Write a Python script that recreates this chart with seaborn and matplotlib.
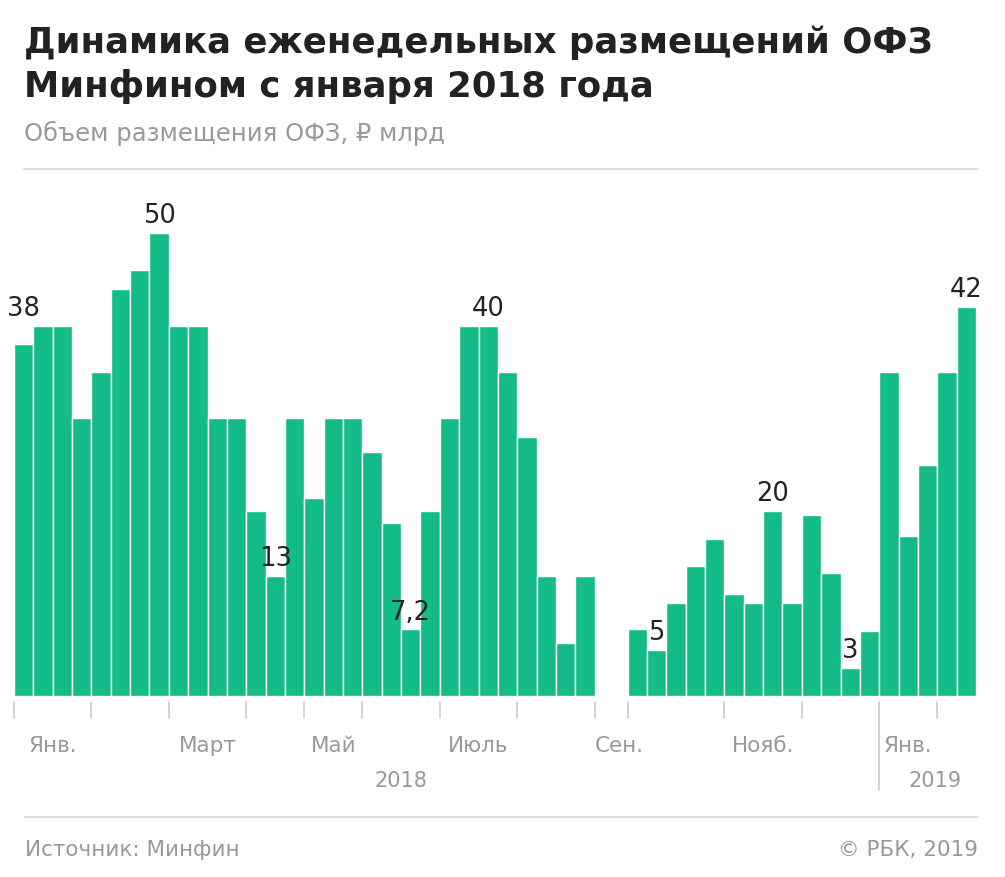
import numpy as np
import pandas as pd
import matplotlib
matplotlib.use("Agg")
import matplotlib.pyplot as plt
import matplotlib.transforms as mtransforms
import seaborn as sns

# weekly OFZ placements, bln rub
vals_2018 = [38, 40, 40, 30, 35, 44, 46, 50, 40, 40, 30, 30, 20, 13, 30,
             21.4, 30, 30, 26.4, 18.7, 7.2, 20, 30, 40, 40, 35, 28, 13, 5.7, 13]
vals_after = [7.2, 5, 10, 14, 17, 11, 10, 20, 10, 19.5, 13.3, 3, 7, 35,
              17.3, 25, 35, 42]

# months and number of weekly bars in each (September has no bars)
month_names = ['Янв.', 'Февр.', 'Март', 'Апр.', 'Май', 'Июнь', 'Июль', 'Авг.',
               'Сен.', 'Окт.', 'Нояб.', 'Дек.', 'Янв.', 'Февр.']
month_weeks = [4, 4, 4, 3, 3, 4, 4, 4, 0, 5, 4, 4, 3, 2]
shown_months = [0, 2, 4, 6, 8, 10, 12]

# labelled bars: (bar index, text)
labels = [(0, '38'), (7, '50'), (13, '13'), (20, '7,2'), (24, '40'),
          (31, '5'), (37, '20'), (41, '3'), (47, '42')]

GREEN = '#13bb87'
GRAY = '#999999'
LINE = '#dddddd'
SEP_GAP = 1.7  # width given to the empty September

sns.set_style('white')
plt.rcParams['font.family'] = ['DejaVu Sans']

W, H = 1005, 877
def fx(px): return px / W
def fy(px): return 1 - px / H

# bar positions
xs = [i + 0.5 for i in range(len(vals_2018))]
xs += [len(vals_2018) + SEP_GAP + j + 0.5 for j in range(len(vals_after))]
df = pd.DataFrame({'x': xs, 'v': vals_2018 + vals_after})

# month boundaries
bounds = [0.0]
for m, n in enumerate(month_weeks):
    w = SEP_GAP if n == 0 else n
    bounds.append(bounds[-1] + w)
x_end = bounds[-1]

fig = plt.figure(figsize=(W / 100, H / 100), dpi=100)
ax = fig.add_axes([fx(14), fy(696), fx(976) - fx(14), (696 - 169) / H])
sns.barplot(data=df, x='x', y='v', native_scale=True, width=1, color=GREEN,
            saturation=1, edgecolor='white', linewidth=1.0, errorbar=None, ax=ax)
unit_px = 9.26
ax.set_xlim(0, x_end)
ax.set_ylim(0, 527 / unit_px)
ax.axis('off')

# value labels
for i, t in labels:
    y = df['v'][i]
    if i == 0:
        y = max(df['v'][0:2])
    ax.annotate(t, (df['x'][i], y), xytext=(0, 7), textcoords='offset points',
                ha='center', va='baseline', fontsize=18.5, color='#222222')

# axis ticks under bars
tr = mtransforms.blended_transform_factory(ax.transData, fig.transFigure)
for k, b in enumerate(bounds[:-1]):
    bottom = 790 if k == 12 else 718
    ax.plot([b, b], [fy(702), fy(bottom)], color='#cccccc', lw=1.2,
            transform=tr, clip_on=False)

for k in shown_months:
    if month_weeks[k] == 0:
        ax.text(bounds[k], fy(752), month_names[k], transform=tr, ha='left',
                va='baseline', fontsize=15.5, color=GRAY)
    else:
        ax.text((bounds[k] + bounds[k + 1]) / 2, fy(752), month_names[k],
                transform=tr, ha='center', va='baseline', fontsize=15.5, color=GRAY)

ax.text(20.0, fy(787), '2018', transform=tr, ha='center', va='baseline',
        fontsize=15, color=GRAY)
ax.text(47.6, fy(787), '2019', transform=tr, ha='center', va='baseline',
        fontsize=15, color=GRAY)

# title block
fig.text(fx(24), fy(53), 'Динамика еженедельных размещений ОФЗ', ha='left',
         va='baseline', fontsize=25.6, fontweight='bold', color='#222222')
fig.text(fx(24), fy(97), 'Минфином с января 2018 года', ha='left',
         va='baseline', fontsize=25.6, fontweight='bold', color='#222222')
fig.text(fx(24), fy(141), 'Объем размещения ОФЗ, ₽ млрд', ha='left',
         va='baseline', fontsize=17.5, color=GRAY)

fig.add_artist(plt.Line2D([fx(24), fx(978)], [fy(169), fy(169)], color=LINE, lw=1.5))
fig.add_artist(plt.Line2D([fx(25), fx(978)], [fy(817), fy(817)], color=LINE, lw=1.5))

fig.text(fx(25), fy(856), 'Источник: Минфин', ha='left', va='baseline',
         fontsize=15.5, color=GRAY)
fig.text(fx(978), fy(856), '© РБК, 2019', ha='right', va='baseline',
         fontsize=15.5, color=GRAY)

fig.savefig('out.png', dpi=100)
